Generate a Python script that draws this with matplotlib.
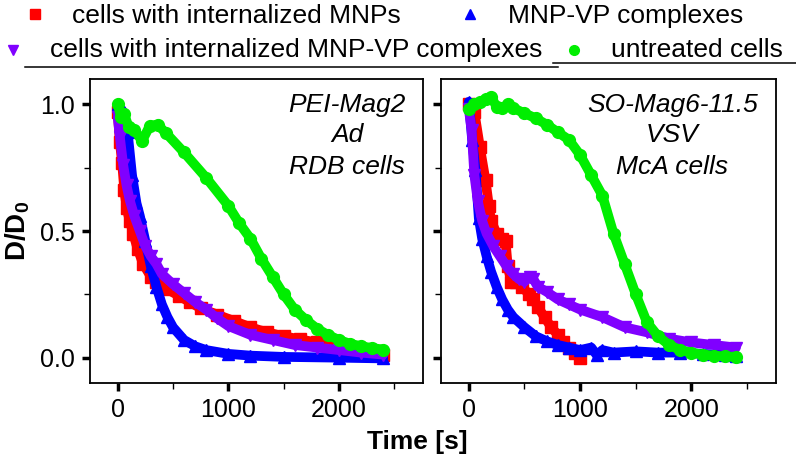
import matplotlib
matplotlib.use('Agg')
import matplotlib.pyplot as plt
from matplotlib.ticker import FixedLocator

plt.rcParams['font.family'] = 'Liberation Sans'
plt.rcParams['mathtext.fontset'] = 'custom'
plt.rcParams['mathtext.bf'] = 'Liberation Sans:bold'

# series names, colours and markers (legend order)
labels = ['cells with internalized MNPs', 'MNP-VP complexes',
          'cells with internalized MNP-VP complexes', 'untreated cells']
colors = ['#ff0000', '#0000ff', '#8000ff', '#00ee00']
markers = ['s', '^', 'v', 'o']

# left panel: PEI-Mag2 / Ad / RDB cells
l_red_x = [0, 20, 40, 60, 80, 110, 140, 180, 230, 300, 350, 450, 550, 650, 750, 900,
           1050, 1200, 1350, 1500, 1650, 1800, 1950, 2100, 2250, 2400]
l_red_y = [0.97, 0.85, 0.77, 0.66, 0.59, 0.54, 0.49, 0.43, 0.37, 0.32, 0.30, 0.27, 0.245,
           0.22, 0.195, 0.17, 0.145, 0.12, 0.10, 0.085, 0.072, 0.06, 0.05, 0.035, 0.02, 0.01]
l_blue_x = [0, 50, 90, 130, 170, 200, 250, 300, 350, 400, 450, 500, 600, 700, 800, 1000,
            1200, 1500, 2000, 2400]
l_blue_y = [1.0, 0.97, 0.89, 0.72, 0.61, 0.56, 0.46, 0.36, 0.28, 0.21, 0.16, 0.12, 0.07,
            0.045, 0.03, 0.015, 0.008, 0.003, 0.0, -0.003]
l_purple_x = [0, 20, 50, 80, 110, 150, 200, 250, 300, 350, 400, 500, 600, 700, 800, 900,
              1000, 1200, 1400, 1600, 1800, 2000, 2200, 2400]
l_purple_y = [0.95, 0.87, 0.76, 0.68, 0.62, 0.56, 0.50, 0.44, 0.40, 0.37, 0.33, 0.29, 0.255,
              0.22, 0.19, 0.155, 0.125, 0.09, 0.07, 0.05, 0.04, 0.03, 0.02, 0.012]
l_green_x = [0, 30, 60, 100, 150, 220, 290, 360, 440, 600, 800, 1000, 1100, 1200, 1300,
             1400, 1500, 1600, 1700, 1800, 1900, 2000, 2100, 2200, 2300, 2400]
l_green_y = [1.0, 0.95, 0.96, 0.91, 0.90, 0.855, 0.915, 0.92, 0.885, 0.81, 0.71, 0.60, 0.53,
             0.47, 0.39, 0.32, 0.25, 0.19, 0.15, 0.115, 0.09, 0.07, 0.055, 0.045, 0.038, 0.032]

# right panel: SO-Mag6-11.5 / VSV / McA cells
r_red_x = [0, 50, 100, 150, 180, 200, 250, 300, 330, 350, 380, 420, 480, 540, 580, 620,
           680, 740, 800, 850, 900, 950, 1000]
r_red_y = [1.0, 0.97, 0.83, 0.70, 0.60, 0.54, 0.49, 0.47, 0.46, 0.36, 0.30, 0.30, 0.28,
           0.25, 0.23, 0.20, 0.16, 0.12, 0.09, 0.06, 0.04, 0.02, 0.0]
r_blue_x = [0, 30, 60, 90, 120, 160, 200, 250, 300, 350, 400, 500, 600, 700, 800, 900,
            1000, 1100, 1150, 1200, 1300, 1500, 1700, 1900, 2100, 2300, 2400]
r_blue_y = [1.01, 0.86, 0.74, 0.55, 0.47, 0.40, 0.34, 0.28, 0.23, 0.19, 0.16, 0.12, 0.085,
            0.065, 0.05, 0.04, 0.03, 0.04, 0.01, 0.03, 0.02, 0.025, 0.02, 0.02, 0.015, 0.01, 0.005]
r_purple_x = [0, 25, 50, 80, 120, 160, 220, 280, 340, 400, 450, 500, 550, 580, 620, 700,
              800, 900, 1000, 1200, 1400, 1600, 1800, 2000, 2200, 2400]
r_purple_y = [0.98, 0.90, 0.72, 0.62, 0.54, 0.49, 0.44, 0.40, 0.36, 0.33, 0.31, 0.30, 0.32,
              0.31, 0.28, 0.26, 0.23, 0.21, 0.19, 0.16, 0.12, 0.10, 0.075, 0.06, 0.05, 0.04]
r_green_x = [0, 50, 100, 150, 200, 250, 300, 350, 400, 500, 600, 700, 800, 900, 1000, 1100,
             1200, 1300, 1400, 1500, 1600, 1700, 1800, 1900, 2000, 2100, 2200, 2300, 2400]
r_green_y = [0.98, 1.0, 1.01, 1.02, 1.03, 0.99, 0.985, 1.0, 0.985, 0.965, 0.945, 0.92, 0.89,
             0.86, 0.80, 0.72, 0.64, 0.49, 0.37, 0.25, 0.14, 0.085, 0.05, 0.03, 0.02, 0.012,
             0.008, 0.005, 0.003]

left_series = [(l_red_x, l_red_y), (l_blue_x, l_blue_y),
               (l_purple_x, l_purple_y), (l_green_x, l_green_y)]
right_series = [(r_red_x, r_red_y), (r_blue_x, r_blue_y),
                (r_purple_x, r_purple_y), (r_green_x, r_green_y)]
left_note = ['PEI-Mag2', 'Ad', 'RDB cells']
right_note = ['SO-Mag6-11.5', 'VSV', 'McA cells']


def style_axes(ax, show_labels):
    ax.set_xlim(-250, 2760)
    ax.set_ylim(-0.1, 1.1)
    ax.set_xticks([0, 1000, 2000])
    ax.xaxis.set_minor_locator(FixedLocator([500, 1500, 2500]))
    ax.set_yticks([0.0, 0.5, 1.0])
    ax.yaxis.set_minor_locator(FixedLocator([0.25, 0.75]))
    ax.tick_params(which='major', length=6, width=2.5, labelsize=18, pad=5)
    ax.tick_params(which='minor', length=4, width=1)
    if show_labels:
        ax.set_yticklabels(['0.0', '0.5', '1.0'])
    else:
        ax.set_yticklabels([])
    for s in ax.spines.values():
        s.set_linewidth(1.3)


fig = plt.figure(figsize=(7.96, 4.61), dpi=100)
ax1 = fig.add_axes([0.1131, 0.1692, 0.4183, 0.6594])
ax2 = fig.add_axes([0.554, 0.1692, 0.4209, 0.6594])

for ax, series, note, nx in [(ax1, left_series, left_note, 0.772),
                             (ax2, right_series, right_note, 0.69)]:
    for (x, y), c, m in zip(series, colors, markers):
        ax.plot(x, y, color=c, lw=7, marker=m, ms=8.5, mec=c,
                solid_capstyle='round', solid_joinstyle='round')
    for txt, ny in zip(note, [0.915, 0.815, 0.71]):
        ax.text(nx, ny, txt, transform=ax.transAxes, ha='center', va='center',
                fontsize=19, style='italic')

style_axes(ax1, True)
style_axes(ax2, False)

ax1.set_ylabel(r'$\mathbf{D/D_0}$', fontsize=20, labelpad=6)
fig.text(417 / 796, 1 - 442 / 461, 'Time [s]', ha='center', va='center',
         fontsize=19, fontweight='bold')

# legend drawn on an overlay in pixel units
lg = fig.add_axes([0, 0, 1, 1])
lg.set_xlim(0, 796)
lg.set_ylim(461, 0)
lg.axis('off')
mark_pos = [(35, 14), (470, 14), (13, 50), (574, 50)]
text_pos = [(72, 23), (508, 23), (50, 57), (611, 57)]
for lab, c, m, (mx, my), (tx, ty) in zip(labels, colors, markers, mark_pos, text_pos):
    lg.plot([mx], [my], marker=m, color=c, ms=7, mec=c, ls='none')
    lg.text(tx, ty, lab, fontsize=19, ha='left', va='baseline')
lg.plot([25, 558], [67, 67], color='black', lw=1.1)
lg.plot([553, 796], [63, 63], color='black', lw=1.1)

fig.savefig('out.png', dpi=100)
